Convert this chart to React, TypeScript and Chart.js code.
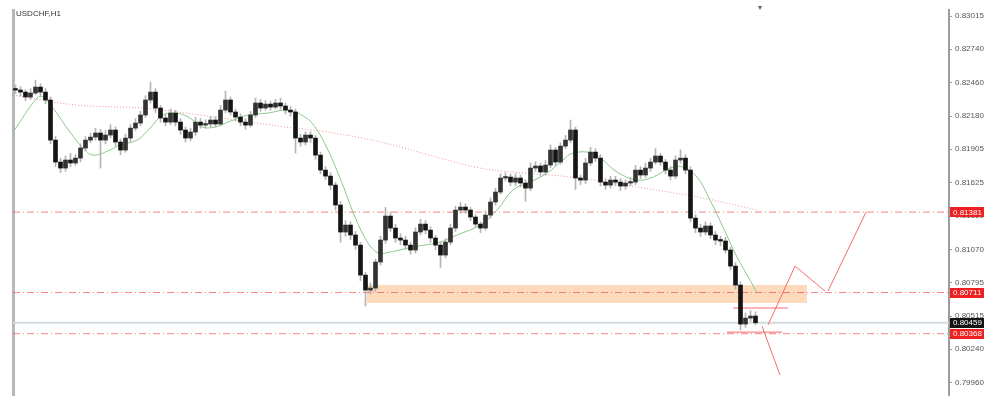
import React, { useEffect, useRef } from 'react';
import { Chart, registerables } from 'chart.js';

Chart.register(...registerables);

const SYMBOL = 'USDCHF,H1';

// H1 candles (index = bar number, oldest first)
const opens = [
  0.82410,0.82398,0.82381,0.82340,0.82373,0.82423,0.82381,0.82315,0.81981,0.81798,
  0.81748,0.81815,0.81790,0.81831,0.81915,0.81981,0.82006,0.82040,0.81981,0.82023,
  0.82065,0.81965,0.81898,0.81998,0.82081,0.82123,0.82190,0.82315,0.82381,0.82248,
  0.82165,0.82131,0.82206,0.82131,0.82065,0.81998,0.82048,0.82131,0.82106,0.82115,
  0.82148,0.82115,0.82231,0.82315,0.82215,0.82173,0.82131,0.82106,0.82190,0.82290,
  0.82248,0.82281,0.82256,0.82290,0.82265,0.82231,0.82215,0.81998,0.81965,0.82023,
  0.81998,0.81856,0.81731,0.81681,0.81606,0.81440,0.81215,0.81273,0.81190,0.81106,
  0.80856,0.80731,0.80748,0.80965,0.81148,0.81348,0.81248,0.81165,0.81148,0.81106,
  0.81065,0.81215,0.81281,0.81231,0.81165,0.81106,0.81023,0.81131,0.81248,0.81398,
  0.81423,0.81398,0.81340,0.81281,0.81248,0.81356,0.81465,0.81548,0.81665,0.81673,
  0.81631,0.81665,0.81623,0.81581,0.81748,0.81765,0.81715,0.81773,0.81898,0.81798,
  0.81931,0.81981,0.82065,0.81665,0.81648,0.81790,0.81881,0.81831,0.81631,0.81606,
  0.81648,0.81631,0.81598,0.81623,0.81631,0.81731,0.81690,0.81748,0.81798,0.81848,
  0.81798,0.81731,0.81681,0.81815,0.81831,0.81731,0.81331,0.81248,0.81215,0.81265,
  0.81190,0.81148,0.81140,0.81065,0.80931,0.80773,0.80448,0.80498,0.80515,
];
const highs = [
  0.82440,0.82425,0.82400,0.82410,0.82481,0.82450,0.82410,0.82340,0.82010,0.81830,
  0.81850,0.81870,0.81860,0.81950,0.82010,0.82040,0.82080,0.82070,0.82060,0.82110,
  0.82090,0.81990,0.82030,0.82110,0.82160,0.82220,0.82350,0.82465,0.82410,0.82270,
  0.82200,0.82240,0.82230,0.82160,0.82090,0.82080,0.82170,0.82160,0.82150,0.82180,
  0.82175,0.82270,0.82390,0.82340,0.82240,0.82200,0.82160,0.82220,0.82330,0.82320,
  0.82310,0.82305,0.82320,0.82330,0.82290,0.82260,0.82240,0.82030,0.82050,0.82050,
  0.82020,0.81880,0.81760,0.81710,0.81630,0.81470,0.81310,0.81300,0.81220,0.81130,
  0.80880,0.80790,0.80990,0.81180,0.81420,0.81380,0.81280,0.81200,0.81180,0.81130,
  0.81250,0.81320,0.81310,0.81260,0.81190,0.81130,0.81160,0.81280,0.81430,0.81460,
  0.81450,0.81420,0.81360,0.81300,0.81390,0.81500,0.81580,0.81700,0.81710,0.81700,
  0.81700,0.81690,0.81650,0.81790,0.81800,0.81790,0.81810,0.81940,0.81920,0.81960,
  0.82020,0.82148,0.82090,0.81690,0.81830,0.81920,0.81910,0.81860,0.81660,0.81680,
  0.81680,0.81660,0.81650,0.81670,0.81770,0.81760,0.81790,0.81830,0.81910,0.81870,
  0.81820,0.81760,0.81850,0.81900,0.81860,0.81760,0.81360,0.81280,0.81300,0.81290,
  0.81220,0.81180,0.81170,0.81090,0.80960,0.80800,0.80540,0.80560,0.80550,
];
const lows = [
  0.82370,0.82350,0.82310,0.82320,0.82360,0.82350,0.82285,0.81950,0.81760,0.81710,
  0.81720,0.81760,0.81770,0.81800,0.81890,0.81960,0.81980,0.81748,0.81950,0.82000,
  0.81930,0.81860,0.81880,0.81970,0.82060,0.82100,0.82170,0.82290,0.82210,0.82130,
  0.82100,0.82110,0.82100,0.82030,0.81965,0.81975,0.82020,0.82080,0.82080,0.82090,
  0.82090,0.82100,0.82210,0.82190,0.82140,0.82100,0.82070,0.82090,0.82170,0.82220,
  0.82230,0.82230,0.82240,0.82240,0.82200,0.82180,0.81873,0.81930,0.81940,0.81960,
  0.81820,0.81700,0.81650,0.81570,0.81400,0.81130,0.81180,0.81150,0.81070,0.80810,
  0.80600,0.80700,0.80720,0.80940,0.81120,0.81220,0.81130,0.81110,0.81070,0.81030,
  0.81040,0.81190,0.81200,0.81130,0.81070,0.80920,0.81000,0.81110,0.81220,0.81370,
  0.81370,0.81310,0.81250,0.81210,0.81230,0.81330,0.81440,0.81530,0.81640,0.81600,
  0.81600,0.81590,0.81470,0.81560,0.81720,0.81680,0.81690,0.81750,0.81770,0.81780,
  0.81910,0.81960,0.81570,0.81610,0.81620,0.81770,0.81800,0.81600,0.81570,0.81580,
  0.81600,0.81560,0.81570,0.81600,0.81610,0.81660,0.81670,0.81720,0.81780,0.81770,
  0.81700,0.81650,0.81660,0.81790,0.81700,0.81300,0.81210,0.81180,0.81190,0.81160,
  0.81110,0.81100,0.81040,0.80900,0.80740,0.80400,0.80420,0.80470,0.80440,
];
const closes = [
  0.82398,0.82381,0.82340,0.82373,0.82423,0.82381,0.82315,0.81981,0.81798,0.81748,
  0.81815,0.81790,0.81831,0.81915,0.81981,0.82006,0.82040,0.81981,0.82023,0.82065,
  0.81965,0.81898,0.81998,0.82081,0.82123,0.82190,0.82315,0.82381,0.82248,0.82165,
  0.82131,0.82206,0.82131,0.82065,0.81998,0.82048,0.82131,0.82106,0.82115,0.82148,
  0.82115,0.82231,0.82315,0.82215,0.82173,0.82131,0.82106,0.82190,0.82290,0.82248,
  0.82281,0.82256,0.82290,0.82265,0.82231,0.82215,0.81998,0.81965,0.82023,0.81998,
  0.81856,0.81731,0.81681,0.81606,0.81440,0.81215,0.81273,0.81190,0.81106,0.80856,
  0.80731,0.80748,0.80965,0.81148,0.81348,0.81248,0.81165,0.81148,0.81106,0.81065,
  0.81215,0.81281,0.81231,0.81165,0.81106,0.81023,0.81131,0.81248,0.81398,0.81423,
  0.81398,0.81340,0.81281,0.81248,0.81356,0.81465,0.81548,0.81665,0.81673,0.81631,
  0.81665,0.81623,0.81581,0.81748,0.81765,0.81715,0.81773,0.81898,0.81798,0.81931,
  0.81981,0.82065,0.81665,0.81648,0.81790,0.81881,0.81831,0.81631,0.81606,0.81648,
  0.81631,0.81598,0.81623,0.81631,0.81731,0.81690,0.81748,0.81798,0.81848,0.81798,
  0.81731,0.81681,0.81815,0.81831,0.81731,0.81331,0.81248,0.81215,0.81265,0.81190,
  0.81148,0.81140,0.81065,0.80931,0.80773,0.80448,0.80498,0.80515,0.80459,
];

// moving averages: [bar index, price]
const fastMA: [number, number][] = [
  [-0.5,0.82048],[4.3,0.82331],[5.5,0.82340],[7.5,0.82248],[10.9,0.82048],[13.5,0.81915],
  [15.5,0.81856],[18.9,0.81898],[20.9,0.81940],[24.3,0.81981],[26.9,0.82081],[29.5,0.82190],
  [32.3,0.82206],[34.9,0.82165],[37.3,0.82090],[39.9,0.82090],[42.5,0.82131],[46.5,0.82190],
  [50.5,0.82206],[54.5,0.82231],[57.9,0.82173],[59.9,0.82090],[62.5,0.81898],[65.3,0.81623],
  [67.9,0.81340],[70.5,0.81123],[72.5,0.81040],[73.9,0.81040],[79.5,0.81090],[84.9,0.81131],
  [88.3,0.81190],[92.9,0.81273],[96.3,0.81398],[99.5,0.81565],[102.9,0.81631],[106.3,0.81706],
  [109.5,0.81815],[111.5,0.81873],[115.5,0.81873],[117.5,0.81815],[120.3,0.81715],[124.3,0.81648],
  [127.5,0.81673],[130.9,0.81748],[133.5,0.81756],[136.3,0.81673],[138.9,0.81481],[141.5,0.81256],
  [144.3,0.81006],[146.9,0.80815],[148.3,0.80706],
];
const slowMA: [number, number][] = [
  [-0.5,0.82356],[12.3,0.82273],[25.5,0.82248],[36.9,0.82190],[53.9,0.82090],[62.5,0.82048],
  [73.9,0.81956],[86.3,0.81815],[92.9,0.81748],[99.5,0.81715],[112.9,0.81665],[124.3,0.81590],
  [137.5,0.81498],[148.3,0.81398],
];

const yTicks = [0.83015,0.82740,0.82460,0.82180,0.81905,0.81625,0.81350,0.81070,0.80795,0.80515,0.80240,0.79960];
const levelLines = [0.81381, 0.80711, 0.80368];
const currentPrice = 0.80459;
const zoneX = [70.3, 158.3];
const zoneY = [0.80623, 0.80773];
const projectionA: [number, number][] = [[150.5,0.80440],[155.9,0.80931],[161.9,0.80723]];
const projectionB: [number, number][] = [[162.5,0.80723],[170.1,0.81381]];
const projectionC: [number, number][] = [[149.3,0.80431],[152.9,0.80023]];
const shortLevels: [number, number, number][] = [[143.5,154.5,0.80582],[142.3,153.3,0.80381]];

const X_MIN = -0.5;
const X_MAX = 186.7;
const Y_MIN = 0.79857;
const Y_MAX = 0.83065;

const pts = (a: [number, number][]) => a.map(([x, y]) => ({ x, y }));

const priceTags = {
  id: 'priceTags',
  afterDraw(chart: any) {
    const ctx = chart.ctx;
    const ys = chart.scales.y;
    const right = chart.chartArea.right;
    const tags = [
      ...levelLines.map((v) => ({ v, bg: '#ee2020' })),
      { v: currentPrice, bg: '#141414' },
    ];
    ctx.save();
    ctx.font = '8px "Liberation Sans"';
    ctx.textBaseline = 'middle';
    for (const t of tags) {
      const py = ys.getPixelForValue(t.v);
      ctx.fillStyle = t.bg;
      ctx.fillRect(right + 1, Math.round(py) - 5, 34, 10);
      ctx.fillStyle = '#ffffff';
      ctx.fillText(t.v.toFixed(5), right + 4, py + 0.5);
    }
    ctx.restore();
  },
};

export default function App() {
  const ref = useRef<HTMLCanvasElement | null>(null);
  useEffect(() => {
    if (!ref.current) return;
    const lineBase = { type: 'line', pointRadius: 0, borderWidth: 1, yAxisID: 'y', xAxisID: 'x', fill: false };
    const projections = [projectionA, projectionB, projectionC];
    const datasets: any[] = [
      {
        type: 'bar',
        label: 'bodies',
        data: closes.map((c, i) => ({ x: i, y: [opens[i], c] })),
        backgroundColor: closes.map((c, i) => (c >= opens[i] ? '#333333' : '#151515')),
        barThickness: 4,
        minBarLength: 1.5,
        grouped: false,
        order: 1,
        yAxisID: 'y',
        xAxisID: 'x',
      },
      {
        type: 'bar',
        label: 'wicks',
        data: highs.map((h, i) => ({ x: i, y: [lows[i], h] })),
        backgroundColor: '#b4b4b4',
        barThickness: 1,
        grouped: false,
        order: 2,
        yAxisID: 'y',
        xAxisID: 'x',
      },
      { ...lineBase, label: 'fast MA', data: pts(fastMA), borderColor: '#8cc88c', tension: 0.4, order: 3 },
      { ...lineBase, label: 'slow MA', data: pts(slowMA), borderColor: 'rgba(240,110,110,0.75)', borderDash: [1, 2], tension: 0.4, order: 4 },
      ...projections.map((p, k) => ({ ...lineBase, label: 'proj' + k, data: pts(p), borderColor: '#f46b6b', order: 5 })),
      ...shortLevels.map(([a, b, v], k) => ({ ...lineBase, label: 'short' + k, data: [{ x: a, y: v }, { x: b, y: v }], borderColor: '#f46b6b', order: 5 })),
      ...levelLines.map((v, k) => ({
        ...lineBase,
        label: 'level' + k,
        data: [{ x: X_MIN, y: v }, { x: X_MAX, y: v }],
        borderColor: 'rgba(235,70,70,0.65)',
        borderDash: [7, 3, 1, 3],
        order: 6,
      })),
      { ...lineBase, label: 'price', data: [{ x: X_MIN, y: currentPrice }, { x: X_MAX, y: currentPrice }], borderColor: '#d3dbe2', borderWidth: 2, order: 7 },
      {
        ...lineBase,
        label: 'zone',
        data: [{ x: zoneX[0], y: zoneY[1] }, { x: zoneX[1], y: zoneY[1] }],
        borderWidth: 0,
        borderColor: 'rgba(0,0,0,0)',
        backgroundColor: '#fcdabb',
        fill: { value: zoneY[0] },
        order: 20,
      },
    ];
    const chart = new Chart(ref.current, {
      type: 'bar',
      data: { datasets },
      options: {
        responsive: false,
        animation: false,
        devicePixelRatio: 1,
        layout: { padding: { left: 12, top: 10, bottom: 12, right: 0 } },
        plugins: { legend: { display: false }, tooltip: { enabled: false } },
        scales: {
          x: { type: 'linear', display: false, min: X_MIN, max: X_MAX, offset: false },
          y: {
            type: 'linear',
            position: 'right',
            min: Y_MIN,
            max: Y_MAX,
            afterBuildTicks: (s: any) => {
              s.ticks = yTicks.map((v) => ({ value: v }));
            },
            afterFit: (s: any) => {
              s.width = 51;
            },
            border: { color: '#9c9c9c', width: 2 },
            grid: { drawOnChartArea: false, drawTicks: true, tickLength: 3, color: '#9c9c9c' },
            ticks: {
              padding: 3,
              color: '#555',
              autoSkip: false,
              font: { family: 'Liberation Sans', size: 8 },
              callback: (v: any) => Number(v).toFixed(5),
            },
          },
          yl: {
            type: 'linear',
            position: 'left',
            afterFit: (s: any) => {
              s.width = 1;
            },
            ticks: { display: false },
            grid: { display: false },
            border: { color: '#b8b8b8', width: 3 },
          },
        },
      } as any,
      plugins: [priceTags],
    } as any);
    return () => chart.destroy();
  }, []);

  return (
    <div style={{ position: 'fixed', left: 0, top: 0, width: 1000, height: 407, background: '#fff' }}>
      <canvas ref={ref} width={1000} height={407} style={{ display: 'block' }} />
      <div
        style={{
          position: 'absolute',
          left: 16,
          top: 9,
          fontFamily: 'Liberation Sans',
          fontSize: 8,
          color: '#333',
          lineHeight: '10px',
        }}
      >
        {SYMBOL}
      </div>
      <div
        style={{
          position: 'absolute',
          left: 758,
          top: 3,
          fontFamily: 'DejaVu Sans',
          fontSize: 8,
          color: '#666',
          lineHeight: '10px',
        }}
      >
        ▾
      </div>
    </div>
  );
}
